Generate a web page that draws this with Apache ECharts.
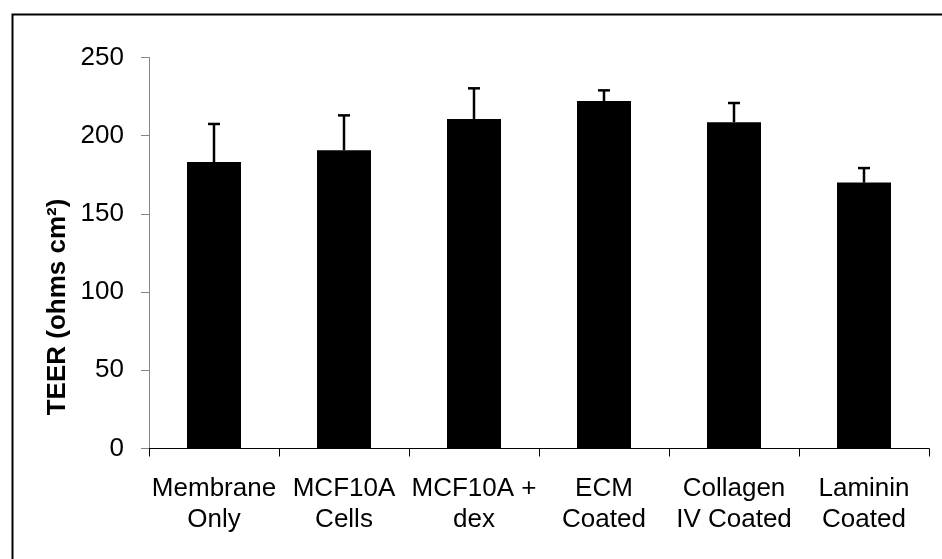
<!DOCTYPE html>
<html>
<head>
<meta charset="utf-8">
<title>TEER by membrane coating</title>
<script src="https://cdn.jsdelivr.net/npm/echarts@6/dist/echarts.min.js"></script>
<style>
  html, body { margin: 0; padding: 0; background: #fff; }
  #chart { width: 942px; height: 559px; }
</style>
</head>
<body>
<div id="chart"></div>
<script>
// Transepithelial electrical resistance per condition (mean and upper SD)
const categories = [
  "Membrane\nOnly",
  "MCF10A\nCells",
  "MCF10A +\ndex",
  "ECM\nCoated",
  "Collagen\nIV Coated",
  "Laminin\nCoated"
];
const teerMean = [183.2, 190.7, 210.7, 222.2, 208.6, 170.0];
const teerError = [24.3, 22.3, 19.6, 6.8, 12.3, 9.3];
const yTicks = [0, 50, 100, 150, 200, 250];

const FONT = "'Liberation Sans', Arial, sans-serif";

const chart = echarts.init(document.getElementById('chart'), null, { renderer: 'canvas' });

const errorData = teerMean.map((m, i) => [i, m, m + teerError[i]]);

chart.setOption({
  animation: false,
  backgroundColor: '#ffffff',
  grid: { left: 149, right: 13, top: 57.5, bottom: 110.5, containLabel: false },
  xAxis: {
    type: 'category',
    data: categories,
    boundaryGap: true,
    axisLine: { show: true, lineStyle: { color: '#000', width: 1 } },
    axisTick: { show: true, alignWithLabel: false, length: 8, lineStyle: { color: '#000', width: 1 } },
    axisLabel: {
      interval: 0,
      margin: 25,
      color: '#000',
      fontFamily: FONT,
      fontSize: 26,
      lineHeight: 31
    },
    splitLine: { show: false }
  },
  yAxis: {
    type: 'value',
    min: yTicks[0],
    max: yTicks[yTicks.length - 1],
    interval: yTicks[1] - yTicks[0],
    axisLine: { show: true, lineStyle: { color: '#868686', width: 1 } },
    axisTick: { show: true, inside: false, length: 8, lineStyle: { color: '#868686', width: 1 } },
    axisLabel: {
      margin: 25,
      color: '#000',
      fontFamily: FONT,
      fontSize: 26
    },
    splitLine: { show: false }
  },
  series: [
    {
      type: 'bar',
      data: teerMean,
      barWidth: 54,
      itemStyle: { color: '#000' },
      z: 2
    },
    {
      type: 'custom',
      data: errorData,
      z: 3,
      renderItem: function (params, api) {
        const base = api.coord([api.value(0), api.value(1)]);
        const top = api.coord([api.value(0), api.value(2)]);
        const half = 6;
        const style = { stroke: '#000', lineWidth: 2.5 };
        return {
          type: 'group',
          children: [
            { type: 'line', shape: { x1: base[0], y1: base[1], x2: top[0], y2: top[1] }, style: style },
            { type: 'line', shape: { x1: top[0] - half, y1: top[1], x2: top[0] + half, y2: top[1] }, style: style }
          ]
        };
      }
    }
  ],
  graphic: [
    {
      type: 'rect',
      left: 10,
      top: 12,
      shape: { x: 0, y: 0, width: 1000, height: 600 },
      style: { fill: 'none', stroke: '#000', lineWidth: 2 },
      silent: true
    },
    {
      type: 'text',
      x: 58,
      y: 307,
      rotation: Math.PI / 2,
      style: {
        text: 'TEER (ohms cm²)',
        fill: '#000',
        font: 'bold 26px ' + FONT,
        align: 'center',
        verticalAlign: 'middle'
      }
    }
  ]
});
</script>
</body>
</html>
